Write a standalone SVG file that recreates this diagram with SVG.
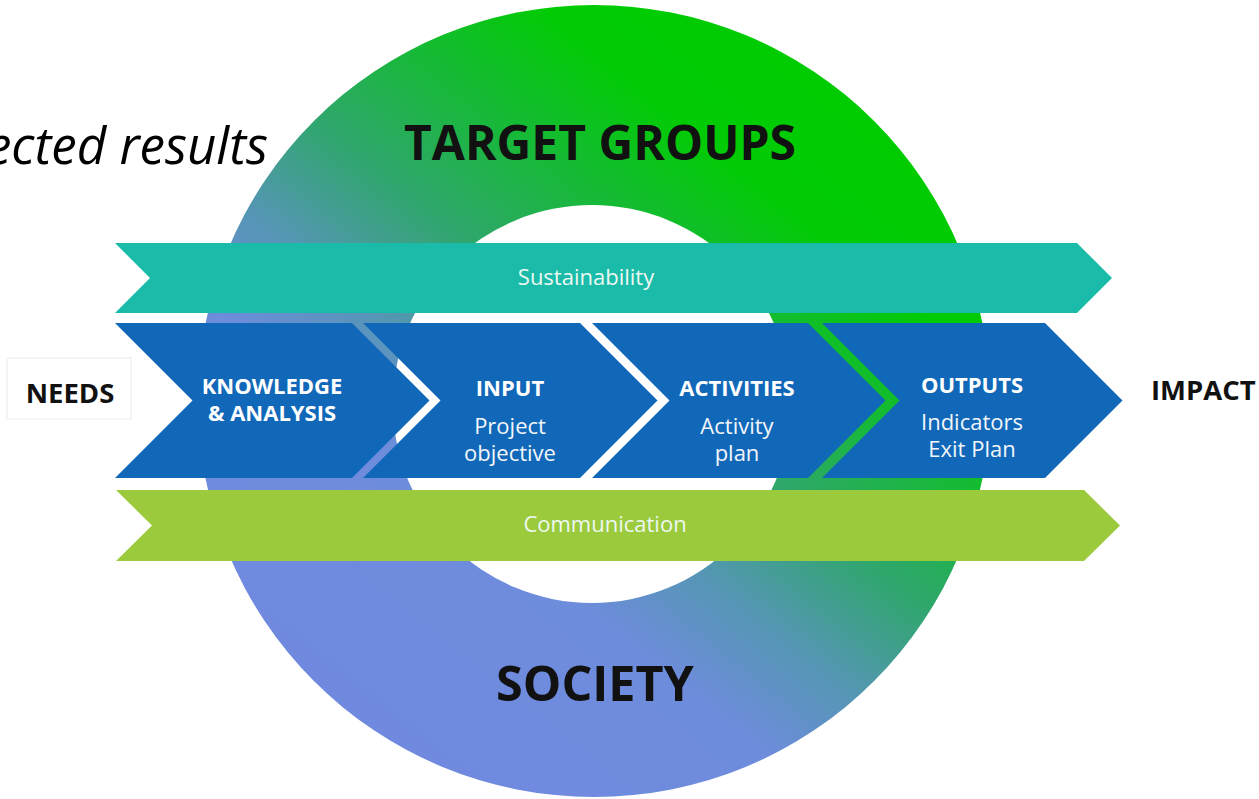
<svg xmlns="http://www.w3.org/2000/svg" width="1259" height="799" viewBox="0 0 1259 799">
  <defs>
    <linearGradient id="ringGrad" gradientUnits="userSpaceOnUse" x1="330" y1="730" x2="860" y2="70">
      <stop offset="0" stop-color="#7089e0"/>
      <stop offset="0.3" stop-color="#6e8cdc"/>
      <stop offset="0.42" stop-color="#5596b4"/>
      <stop offset="0.55" stop-color="#30a66e"/>
      <stop offset="0.68" stop-color="#18b83a"/>
      <stop offset="0.82" stop-color="#02cb06"/>
      <stop offset="1" stop-color="#00cc00"/>
    </linearGradient>
    <style>
      .band-teal { fill: #1bbba9; }
      .band-green { fill: #9bca3d; }
      .chev { fill: #1268b8; }
      .big { font-family: "Open Sans", "Liberation Sans", sans-serif; font-weight: 700; fill: #111111; }
      .side { font-family: "Open Sans", "Liberation Sans", sans-serif; font-weight: 700; font-size: 27.5px; fill: #111111; }
      .head { font-family: "Open Sans", "Liberation Sans", sans-serif; font-weight: 700; font-size: 22px; fill: #ffffff; text-anchor: middle; }
      .sub { font-family: "Open Sans", "Liberation Sans", sans-serif; font-weight: 400; font-size: 22px; fill: #f2f6fb; text-anchor: middle; }
      .bandtxt { font-family: "Open Sans", "Liberation Sans", sans-serif; font-weight: 400; font-size: 22px; fill: #eef8f2; text-anchor: middle; }
    </style>
  </defs>

  <rect x="0" y="0" width="1259" height="799" fill="#ffffff"/>

  <text x="268" y="164" font-family="'Open Sans', 'Liberation Sans', sans-serif" font-style="italic" font-size="51" fill="#000000" text-anchor="end">ected results</text>

  <g id="ring">
    <path d="M 594 5 A 396 396 0 1 1 594 797 A 396 396 0 1 1 594 5 Z M 592 205 A 199 199 0 1 0 592 603 A 199 199 0 1 0 592 205 Z" fill="url(#ringGrad)" fill-rule="evenodd"/>
    <text class="big" x="600" y="160" font-size="48" text-anchor="middle">TARGET GROUPS</text>
    <text class="big" x="595" y="701" font-size="48.5" text-anchor="middle">SOCIETY</text>
  </g>

  <g id="needs">
    <rect x="7" y="358" width="124" height="61" fill="#ffffff" stroke="#ececec" stroke-width="1"/>
    <text class="side" x="70" y="403" text-anchor="middle">NEEDS</text>
  </g>

  <g id="impact">
    <text class="side" x="1151" y="400">IMPACT</text>
  </g>

  <g id="sustainability">
    <polygon class="band-teal" points="115,243 1077,243 1112,278 1077,313 115,313 150,278"/>
    <text class="bandtxt" x="586" y="285">Sustainability</text>
  </g>

  <g id="communication">
    <polygon class="band-green" points="116,490 1084,490 1120,525.5 1084,561 116,561 152,525.5"/>
    <text class="bandtxt" x="605" y="532">Communication</text>
  </g>

  <g id="knowledge">
    <polygon class="chev" points="115,323 352,323 429.5,400.5 352,478 115,478 192.5,400.5"/>
    <text class="head" x="272" y="394">KNOWLEDGE</text>
    <text class="head" x="272" y="421">&amp; ANALYSIS</text>
  </g>

  <g id="input">
    <polygon class="chev" points="363,323 580,323 657.5,400.5 580,478 363,478 440.5,400.5"/>
    <text class="head" x="510" y="396">INPUT</text>
    <text class="sub" x="510" y="434">Project</text>
    <text class="sub" x="510" y="461">objective</text>
  </g>

  <g id="activities">
    <polygon class="chev" points="592,323 808,323 885.5,400.5 808,478 592,478 669.5,400.5"/>
    <text class="head" x="737" y="396">ACTIVITIES</text>
    <text class="sub" x="737" y="434">Activity</text>
    <text class="sub" x="737" y="461">plan</text>
  </g>

  <g id="outputs">
    <polygon class="chev" points="822,323 1045,323 1122.5,400.5 1045,478 822,478 899.5,400.5"/>
    <text class="head" x="972" y="393">OUTPUTS</text>
    <text class="sub" x="972" y="430">Indicators</text>
    <text class="sub" x="972" y="457">Exit Plan</text>
  </g>

  <g id="connectors"></g>
</svg>
